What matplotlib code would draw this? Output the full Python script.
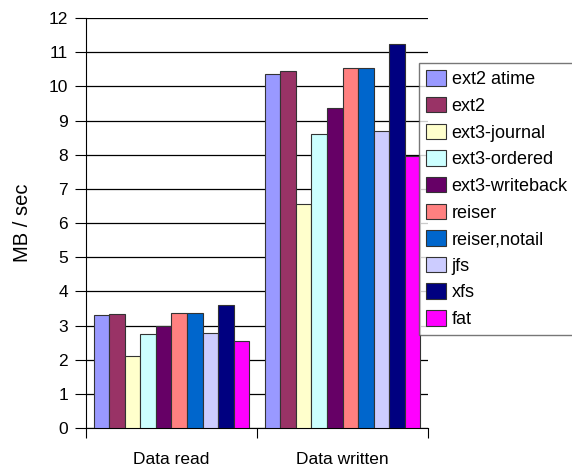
import matplotlib.pyplot as plt
import numpy as np

plt.rcParams['font.family'] = ['Liberation Sans', 'DejaVu Sans']

categories = ["Data read", "Data written"]
filesystems = ["ext2 atime", "ext2", "ext3-journal", "ext3-ordered", "ext3-writeback",
               "reiser", "reiser,notail", "jfs", "xfs", "fat"]
read_mb = [3.31, 3.34, 2.10, 2.75, 2.99, 3.36, 3.36, 2.78, 3.59, 2.55]
written_mb = [10.35, 10.45, 6.55, 8.61, 9.36, 10.53, 10.53, 8.69, 11.25, 7.96]
colors = ["#9999FF", "#993366", "#FFFFCC", "#CCFFFF", "#660066",
          "#FF8080", "#0066CC", "#CCCCFF", "#000080", "#FF00FF"]

fig = plt.figure(figsize=(5.72, 4.69), dpi=100)
ax = fig.add_axes([0.1503, 0.0874, 0.5980, 0.8742])

n = len(filesystems)
width = 1.0 / (n + 1)
x = np.arange(len(categories))
for i, fs in enumerate(filesystems):
    vals = [read_mb[i], written_mb[i]]
    ax.bar(x - 0.5 + width * (i + 1), vals, width=width, color=colors[i],
           edgecolor="#333333", linewidth=0.8, label=fs, zorder=3)

ax.set_xlim(-0.5, 1.5)
ax.set_ylim(0, 12)
ax.set_yticks(range(0, 13))
ax.yaxis.grid(True, color="black", linewidth=0.9, zorder=0)
ax.set_xticks([-0.5, 0.5, 1.5])
ax.set_xticklabels([])
ax.set_xticks(x, minor=True)
ax.set_xticklabels(categories, minor=True, fontsize=12.5)
ax.tick_params(axis="x", which="minor", length=0, pad=17)
ax.tick_params(axis="x", which="major", length=7, direction="out")
ax.tick_params(axis="y", length=8, direction="out", labelsize=12.5, pad=5)
for s in ["top", "right"]:
    ax.spines[s].set_visible(False)
ax.set_ylabel("MB / sec", fontsize=14.5, labelpad=12)

leg = ax.legend(loc="upper left", bbox_to_anchor=(419 / 572, 1 - 63 / 469),
                bbox_transform=fig.transFigure, fontsize=13, frameon=True,
                fancybox=False, borderpad=0.4, labelspacing=0.48,
                handlelength=1.1, handleheight=0.95, handletextpad=0.3,
                borderaxespad=0)
leg.get_frame().set_edgecolor("#555555")
leg.get_frame().set_linewidth(1.0)
leg.set_zorder(5)

fig.savefig("out.png", dpi=100)
